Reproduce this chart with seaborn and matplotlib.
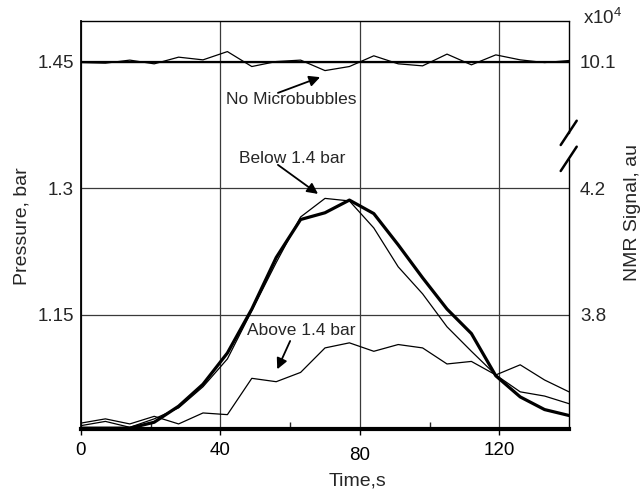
import matplotlib
matplotlib.use("Agg")
import matplotlib.pyplot as plt
import pandas as pd
import seaborn as sns
from matplotlib.ticker import FixedLocator

# Sampling times (s)
time_s = [0, 7, 14, 21, 28, 35, 42, 49, 56, 63, 70, 77, 84, 91, 98, 105, 112, 119, 126, 133, 140]

# No microbubbles: constant pressure and the NMR trace around it
no_mb_pressure = [1.45] * 21
no_mb_signal = [1.4488, 1.4481, 1.4517, 1.4473, 1.4552, 1.4520, 1.4618, 1.4441, 1.4500, 1.4517, 1.4393,
                1.4441, 1.4568, 1.4473, 1.4449, 1.4588, 1.4461, 1.4579, 1.4520, 1.4488, 1.4512]

# Pressure pulse (bold) and NMR responses below / above 1.4 bar
pressure = [1.016, 1.016, 1.016, 1.023, 1.042, 1.068, 1.105, 1.157, 1.218, 1.263, 1.271,
            1.286, 1.270, 1.233, 1.194, 1.157, 1.128, 1.078, 1.053, 1.038, 1.031]
below_14 = [1.019, 1.024, 1.017, 1.027, 1.040, 1.065, 1.098, 1.155, 1.212, 1.266, 1.288,
            1.285, 1.253, 1.207, 1.175, 1.136, 1.107, 1.079, 1.059, 1.054, 1.045]
above_14 = [1.022, 1.027, 1.021, 1.030, 1.021, 1.034, 1.032, 1.075, 1.071, 1.082, 1.111,
            1.117, 1.107, 1.115, 1.111, 1.092, 1.095, 1.079, 1.091, 1.073, 1.059]

# Axis ticks and labels
x_ticks = [0, 40, 80, 120]
x_minor = [20, 60, 100]
p_ticks = [1.15, 1.3, 1.45]
p_labels = ["1.15", "1.3", "1.45"]
nmr_labels = ["3.8", "4.2", "10.1"]

df = pd.DataFrame({
    "Time": time_s,
    "no_mb_pressure": no_mb_pressure,
    "no_mb_signal": no_mb_signal,
    "pressure": pressure,
    "below": below_14,
    "above": above_14,
})

sns.set_style("white")
plt.rcParams["font.family"] = ["Liberation Sans", "DejaVu Sans"]
plt.rcParams["mathtext.default"] = "regular"

fig = plt.figure(figsize=(6.44, 4.96), dpi=100)
ax = fig.add_axes([81 / 644, 67.5 / 496, 488 / 644, 407.5 / 496])
ax.set_xlim(0, 140)
ax.set_ylim(1.0156, 1.498)

ax.set_xticks(x_ticks)
ax.xaxis.set_minor_locator(FixedLocator(x_minor))
ax.set_yticks(p_ticks)
ax.set_yticklabels(p_labels)
ax.grid(True, which="major", color="#3a3a3a", linewidth=0.9)
ax.set_axisbelow(True)

thin = dict(color="black", linewidth=0.9, legend=False)
sns.lineplot(data=df, x="Time", y="no_mb_pressure", ax=ax, color="black", linewidth=1.6, legend=False)
sns.lineplot(data=df, x="Time", y="no_mb_signal", ax=ax, **thin)
sns.lineplot(data=df, x="Time", y="above", ax=ax, **thin)
sns.lineplot(data=df, x="Time", y="below", ax=ax, **thin)
sns.lineplot(data=df, x="Time", y="pressure", ax=ax, color="black", linewidth=2.3, legend=False)

# Spines
ax.spines["top"].set_linewidth(1.0)
ax.spines["left"].set_linewidth(1.3)
ax.spines["bottom"].set_linewidth(3.0)
ax.spines["right"].set_visible(False)
for s in ("top", "left", "bottom"):
    ax.spines[s].set_color("black")

ax.tick_params(axis="x", which="major", direction="out", length=4, width=1, pad=6,
               labelsize=13.5, colors="black", bottom=True)
ax.tick_params(axis="x", which="minor", direction="in", length=5, width=1, bottom=True)
ax.tick_params(axis="y", length=0, pad=5, labelsize=13.5)
ax.xaxis.get_major_ticks()[2].set_pad(9)

ax.set_xlabel("Time,s", fontsize=14)
ax.xaxis.set_label_coords(0.566, -0.109)
ax.set_ylabel("Pressure, bar", fontsize=14)
ax.yaxis.set_label_coords(-0.1045, 0.497)

# NMR signal axis on the right
ax2 = ax.twinx()
ax2.set_ylim(ax.get_ylim())
ax2.set_yticks(p_ticks)
ax2.set_yticklabels(nmr_labels)
ax2.grid(False)
for s in ax2.spines.values():
    s.set_visible(False)
ax2.tick_params(axis="y", length=0, pad=8, labelsize=13.5)
ax2.set_ylabel("NMR Signal, au", fontsize=14, rotation=90)
ax2.yaxis.set_label_coords(1.1127, 0.531)
ax.text(1.029, 0.993, "x10$^{4}$", transform=ax.transAxes, fontsize=13.5, va="baseline", ha="left")

# Broken right axis
ax.plot([1, 1], [0, 0.661], transform=ax.transAxes, color="black", lw=1.0, clip_on=False)
ax.plot([1, 1], [0.725, 1], transform=ax.transAxes, color="black", lw=1.0, clip_on=False)
ax.plot([0.983, 1.0158], [0.6957, 0.7553], transform=ax.transAxes, color="black", lw=1.8, clip_on=False)
ax.plot([0.983, 1.0158], [0.6319, 0.6916], transform=ax.transAxes, color="black", lw=1.8, clip_on=False)

# Annotations
arrow = dict(arrowstyle="-|>", color="black", lw=1.3, mutation_scale=16, shrinkA=0, shrinkB=0)
ax.text(60.2, 1.4046, "No Microbubbles", ha="center", va="center", fontsize=12.5)
ax.annotate("", xy=(68.6, 1.4315), xytext=(56.5, 1.4129), arrowprops=arrow)
ax.text(60.5, 1.3356, "Below 1.4 bar", ha="center", va="center", fontsize=12.5)
ax.annotate("", xy=(68.0, 1.2933), xytext=(56.5, 1.3277), arrowprops=arrow)
ax.text(63.1, 1.1322, "Above 1.4 bar", ha="center", va="center", fontsize=12.5)
ax.annotate("", xy=(56.3, 1.0857), xytext=(60.0, 1.1192), arrowprops=arrow)

fig.savefig("out.png", dpi=100)
